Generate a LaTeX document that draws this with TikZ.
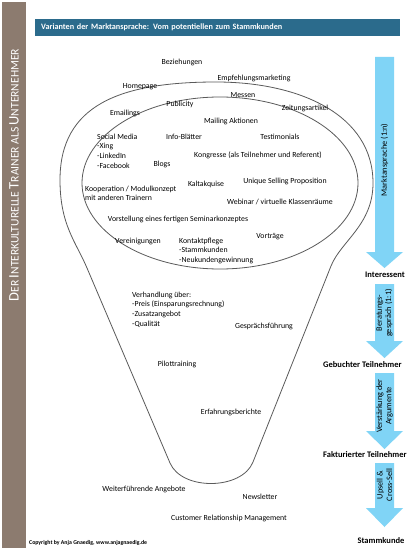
\documentclass[tikz,border=0pt]{standalone}
\usepackage{fontspec}
\setmainfont{Carlito}
\usetikzlibrary{positioning}
\definecolor{sidebrown}{HTML}{8C7B6F}
\definecolor{titleblue}{HTML}{2B6B8C}
\definecolor{arrowblue}{HTML}{80D4F6}
\definecolor{funnelgray}{HTML}{5A5A5A}
\newcommand{\scbig}[1]{{\fontsize{14.5}{15}\selectfont #1}}
\newcommand{\scsmall}[1]{{\fontsize{11.6}{12}\selectfont #1}}
\tikzset{
  channel/.style={font=\fontsize{7.8}{9.7}\selectfont, inner sep=0pt},
  channelblock/.style={channel, align=left, anchor=north west},
  stagelabel/.style={font=\fontsize{8.5}{10}\selectfont\bfseries, inner sep=0pt},
  arrowlabel/.style={font=\fontsize{8.3}{9.3}\selectfont, rotate=90, align=center, inner sep=0pt},
  funnelline/.style={draw=funnelgray, line width=0.8pt},
  titlebar/.style={fill=titleblue, text=white, font=\fontsize{8.2}{9}\selectfont\bfseries,
    minimum width=365pt, minimum height=17pt, text width=353pt, align=left, inner xsep=6pt},
}

\begin{document}
\begin{tikzpicture}[x=1pt, y=-1pt, line cap=round, line join=round]
  \useasboundingbox[fill=white] (0,0) rectangle (410,551);

  \node[fill=sidebrown, anchor=north west, minimum width=24pt, minimum height=546pt, inner sep=0pt] (sidebar) at (2,2) {};
  \node[text=white, rotate=90, anchor=base, inner sep=0pt] (sidetitle) at (18.5,175)
    {\scbig{D}\scsmall{ER} \scbig{I}\scsmall{NTERKULTURELLE} \scbig{T}\scsmall{RAINER} \scsmall{ALS} \scbig{U}\scsmall{NTERNEHMER}};

  \node[titlebar, anchor=north west] (title) at (35,19) {Varianten der Marktansprache: Vom potentiellen zum Stammkunden};

  \draw[funnelline] (170,463) -- (87,268) .. controls (76,242) and (60,225) .. (60,180)
    .. controls (60,105) and (120,82) .. (216,82)
    .. controls (300,82) and (373,115) .. (373,183)
    .. controls (373,225) and (341,241) .. (331,266) -- (253,462)
    .. controls (242,490) and (182,491) .. (170,463) -- cycle;
  \draw[funnelline] (220,183) ellipse [x radius=138, y radius=86];

  \node[channel] (beziehungen) at (182,62) {Beziehungen};
  \node[channel] (empfehlung) at (254,78) {Empfehlungsmarketing};
  \node[channel] (homepage) at (140,87) {Homepage};
  \node[channel] (messen) at (243,95) {Messen};
  \node[channel] (publicity) at (180,104) {Publicity};
  \node[channel] (zeitung) at (305,108) {Zeitungsartikel};
  \node[channel] (emailings) at (125,113) {Emailings};
  \node[channel] (mailing) at (231,121) {Mailing Aktionen};
  \node[channelblock] (social) at (97,133.5) {Social Media\\-Xing\\-LinkedIn\\-Facebook};
  \node[channel] (infoblatt) at (184,137) {Info-Blätter};
  \node[channel] (testimonials) at (280,137) {Testimonials};
  \node[channel] (kongresse) at (258,155) {Kongresse (als Teilnehmer und Referent)};
  \node[channel] (blogs) at (162,164) {Blogs};
  \node[channel] (usp) at (285,181) {Unique Selling Proposition};
  \node[channel] (kaltakquise) at (206,184) {Kaltakquise};
  \node[channelblock] (kooperation) at (85,185.5) {Kooperation / Modulkonzept\\mit anderen Trainern};
  \node[channel] (webinar) at (280,202) {Webinar / virtuelle Klassenräume};
  \node[channel] (vorstellung) at (178,219) {Vorstellung eines fertigen Seminarkonzeptes};
  \node[channel] (vortraege) at (270,237) {Vorträge};
  \node[channel] (vereinigungen) at (138,241) {Vereinigungen};
  \node[channelblock] (kontakt) at (179,237.5) {Kontaktpflege\\-Stammkunden\\-Neukundengewinnung};

  \node[channelblock] (verhandlung) at (132,291.5) {Verhandlung über:\\-Preis (Einsparungsrechnung)\\-Zusatzangebot\\-Qualität};
  \node[channel] (gespraech) at (264,326) {Gesprächsführung};
  \node[channel] (pilot) at (177,364) {Pilottraining};
  \node[channel] (erfahrung) at (231,412) {Erfahrungsberichte};
  \node[channel] (weiter) at (144,489) {Weiterführende Angebote};
  \node[channel] (newsletter) at (260,497) {Newsletter};
  \node[channel] (crm) at (229,518) {Customer Relationship Management};

  \node[font=\fontsize{5.8}{6}\selectfont\bfseries, anchor=west, inner sep=0pt] (copyright) at (29,543)
    {Copyright by Anja Gnaedig, www.anjagnaedig.de};

  \foreach \name/\top/\base/\tip in {reach/57/252/268, consult/284/341/358, argue/373/431/449, upsell/463/508/527} {
    \fill[arrowblue] (375,\top) -- (394,\top) -- (394,\base) -- (403,\base) -- (384.5,\tip)
      -- (366,\base) -- (375,\base) -- cycle;
  }

  \node[arrowlabel] (reachtext) at (384.5,160) {Marktansprache (1:n)};
  \node[arrowlabel] (consulttext) at (384.5,313) {Beratungs-\\gespräch (1:1)};
  \node[arrowlabel] (arguetext) at (384.5,406) {Verstärkung der\\Argumente};
  \node[arrowlabel] (upselltext) at (384.5,485) {Upsell \&\\Cross-Sell};

  \node[stagelabel] (interessent) at (385,275) {Interessent};
  \node[stagelabel, anchor=west] (gebucht) at (323,365) {Gebuchter Teilnehmer};
  \node[stagelabel, anchor=west] (fakturiert) at (323,455) {Fakturierter Teilnehmer};
  \node[stagelabel] (stammkunde) at (381,541) {Stammkunde};
\end{tikzpicture}
\end{document}
